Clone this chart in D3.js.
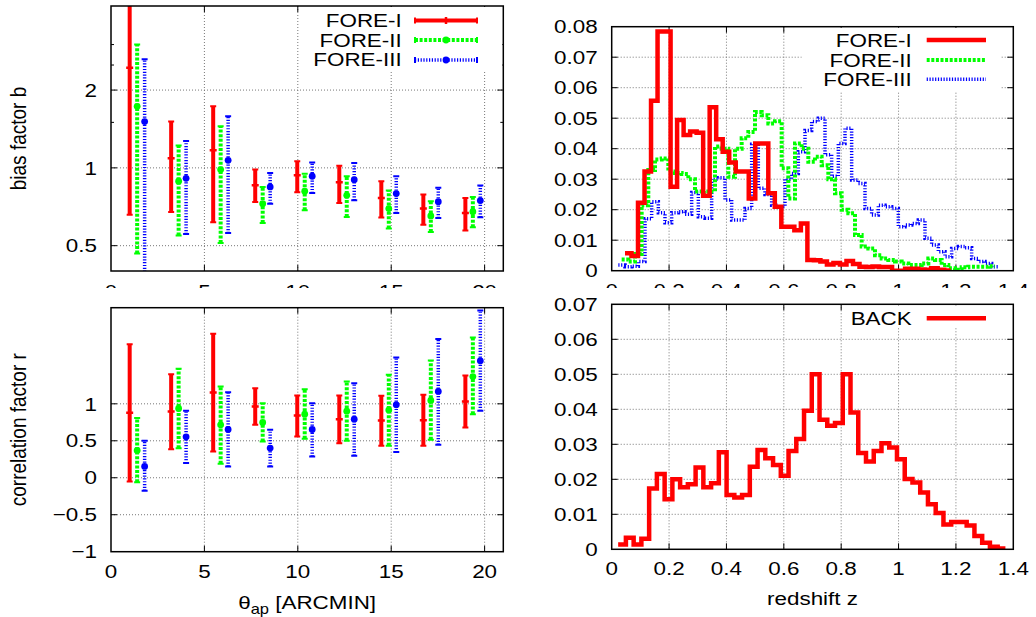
<!DOCTYPE html>
<html>
<head>
<meta charset="utf-8">
<script src="https://cdn.jsdelivr.net/npm/d3@7"></script>
<style>
body { margin: 0; background: #fff; }
svg { display: block; }
text { font-family: "Liberation Sans", Arial, sans-serif; font-size: 19px; fill: #000; }
</style>
</head>
<body>
<svg id="chart" width="1036" height="617"></svg>
<script>
// ---- data ----
var thetaI   = [1, 3.22, 5.47, 7.72, 9.97, 12.22, 14.47, 16.72, 18.97];
var thetaII  = [1.4, 3.62, 5.87, 8.12, 10.37, 12.62, 14.87, 17.12, 19.37];
var thetaIII = [1.8, 4.02, 6.27, 8.52, 10.77, 13.02, 15.27, 17.52, 19.77];

// bias factor b : [low, value, high]
var biasI   = [[0.659,2.44,4.5],[0.675,1.09,1.51],[0.616,1.17,1.73],[0.738,0.856,0.985],[0.804,0.936,1.06],[0.732,0.88,1.02],[0.642,0.765,0.888],[0.603,0.696,0.788],[0.573,0.669,0.765]];
var biasII  = [[0.466,1.73,3.0],[0.548,0.888,1.22],[0.512,0.985,1.45],[0.612,0.727,0.844],[0.685,0.812,0.95],[0.646,0.783,0.928],[0.583,0.696,0.817],[0.565,0.652,0.742],[0.589,0.677,0.772]];
var biasIII = [[0.35,1.51,2.63],[0.555,0.911,1.27],[0.56,1.07,1.585],[0.727,0.844,0.956],[0.80,0.928,1.05],[0.749,0.90,1.045],[0.669,0.795,0.928],[0.64,0.74,0.837],[0.644,0.747,0.854]];

// correlation factor r : [low, value, high]
var corrI   = [[-0.05,0.88,1.807],[0.387,0.896,1.40],[0.356,1.153,1.946],[0.716,0.964,1.212],[0.559,0.842,1.113],[0.468,0.793,1.113],[0.432,0.775,1.108],[0.432,0.779,1.122],[0.68,1.032,1.383]];
var corrII  = [[-0.06,0.37,0.807],[0.40,0.937,1.473],[0.189,0.716,1.234],[0.491,0.748,1.009],[0.527,0.86,1.198],[0.5,0.901,1.302],[0.432,0.915,1.392],[0.514,1.045,1.586],[0.86,1.369,1.896]];
var corrIII = [[-0.176,0.153,0.5],[0.198,0.554,0.905],[0.153,0.653,1.158],[0.153,0.401,0.649],[0.288,0.653,1.009],[0.297,0.793,1.279],[0.347,0.986,1.626],[0.446,1.167,1.878],[0.905,1.581,2.261]];

// redshift histograms: first bin edge, bin width, bin heights
var foreIStart = 0.0463, foreIWidth = 0.02271;
var foreI = [0.0057,0.0048,0.0223,0.0325,0.0557,0.0784,0.0784,0.0275,0.0494,0.0445,0.0456,0.0452,0.0246,0.0536,0.0431,0.039,0.0355,0.0325,0.0325,0.0237,
  0.0417,0.0417,0.0254,0.021,0.0144,0.0144,0.0133,0.0155,0.0035,0.0034,0.003,0.002,0.0025,0.002,0.0032,0.0022,0.0013,0.0012,0.0014,0.0012,
  0.0012,0,0,0.0006,0.0006,0.0004,0.0003,0.0008,0.0003,0.0001];

var foreIIStart = 0.0347, foreIIWidth = 0.02324;
var foreII = [0.0037,0.003,0.0055,0.0215,0.033,0.0365,0.0368,0.0325,0.032,0.0317,0.030,0.026,0.0255,0.026,0.0407,0.040,0.0308,0.040,0.0434,0.0455,
  0.052,0.051,0.0483,0.049,0.0336,0.0237,0.0417,0.040,0.0357,0.0374,0.0346,0.030,0.0254,0.020,0.0188,0.0117,0.0079,0.0073,0.0051,0.004,
  0.0035,0.003,0.0024,0.0019,0.0019,0.0024,0.004,0.0035,0.0019,0.0008,0.0003,0.0011,0.0013,0.0013,0.0013,0.0015];

var foreIIIStart = 0.0231, foreIIIWidth = 0.02324;
var foreIII = [0.0019,0.0013,0.0015,0.003,0.017,0.0226,0.019,0.0157,0.019,0.0193,0.0185,0.0256,0.0177,0.0172,0.030,0.0305,0.0232,0.0166,0.0166,0.0204,
  0.0415,0.027,0.025,0.0215,0.021,0.030,0.0319,0.039,0.046,0.0489,0.050,0.038,0.031,0.0417,0.0467,0.0297,0.0286,0.0204,0.0183,0.0215,
  0.021,0.0204,0.0144,0.015,0.0155,0.0166,0.0106,0.0084,0.0062,0.0046,0.0073,0.0079,0.0075,0.004,0.003,0.0024,0.0013];

var backStart = 0.0225, backWidth = 0.027;
var back = [0.0014,0.0033,0.0014,0.003,0.0174,0.0215,0.0143,0.020,0.0177,0.0186,0.0234,0.0177,0.0189,0.0277,0.0155,0.0148,0.0155,0.0236,0.0284,0.026,
  0.0241,0.021,0.0281,0.0315,0.0396,0.05,0.037,0.0353,0.0361,0.05,0.0391,0.0275,0.0251,0.0281,0.0303,0.0291,0.0257,0.0201,0.0191,0.0162,
  0.0129,0.0104,0.0071,0.0078,0.0078,0.0068,0.0038,0.0019,0.0007,0.0002];

var thetaTicks = [0, 5, 10, 15, 20];
var biasTicks = [0.5, 1, 2];
var biasMinor = [1.5, 2.5, 3];
var corrTicks = [-1, -0.5, 0, 0.5, 1];
var zTicks = [0, 0.2, 0.4, 0.6, 0.8, 1, 1.2, 1.4];
var nzTicksTop = [0, 0.01, 0.02, 0.03, 0.04, 0.05, 0.06, 0.07, 0.08];
var nzTicksBottom = [0, 0.01, 0.02, 0.03, 0.04, 0.05, 0.06, 0.07];

// ---- layout ----
var SX = 1.18;   // the picture is stretched horizontally
var svg = d3.select('#chart');

var boxTL = {x0: 111, x1: 503.3, y0: 6, y1: 271};
var boxTR = {x0: 611.7, x1: 1013.3, y0: 26.7, y1: 270.7};
var boxBL = {x0: 111, x1: 503.3, y0: 307.7, y1: 551.7};
var boxBR = {x0: 611.7, x1: 1013.3, y0: 304.3, y1: 549.3};

var xTheta = d3.scaleLinear().domain([0, 21]).range([boxTL.x0, boxTL.x1]);
var yBias = d3.scaleLog().domain([0.399, 4.23]).range([boxTL.y1, boxTL.y0]);
var yCorr = d3.scaleLinear().domain([-1, 2.3]).range([boxBL.y1, boxBL.y0]);
var xZ = d3.scaleLinear().domain([0, 1.4]).range([boxTR.x0, boxTR.x1]);
var yNzTop = d3.scaleLinear().domain([0, 0.08]).range([boxTR.y1, boxTR.y0]);
var yNzBot = d3.scaleLinear().domain([0, 0.07]).range([boxBR.y1, boxBR.y0]);

var styles = {
	I:   {color: '#ff0000', dash: null,      w: 4,   hw: 4.5, dot: false},
	II:  {color: '#00ff00', dash: '3,1.6',   w: 4,   hw: 4,   dot: true},
	III: {color: '#0000ff', dash: '1.2,1.6', w: 3.5, hw: 3.5, dot: true}
};

function txt(g, x, y, str, anchor) {
	return g.append('text')
		.attr('transform', `translate(${x},${y}) scale(${SX},1)`)
		.attr('text-anchor', anchor || 'middle')
		.text(str);
}

function fmt(v) { return d3.format('~g')(v); }

var clipId = 0;
function panel(b, xs, ys, xTicks, yTicks, xLabY) {
	var g = svg.append('g');
	var gx = xTicks.filter(v => xs(v) > b.x0 + 2 && xs(v) < b.x1 - 2);
	var gy = yTicks.filter(v => ys(v) > b.y0 + 2 && ys(v) < b.y1 - 2);
	g.selectAll('.gridx').data(gx).enter().append('line')
		.attr('x1', d => xs(d)).attr('x2', d => xs(d))
		.attr('y1', b.y0).attr('y2', b.y1)
		.attr('stroke', '#777').attr('stroke-dasharray', '1,2');
	g.selectAll('.gridy').data(gy).enter().append('line')
		.attr('x1', b.x0).attr('x2', b.x1)
		.attr('y1', d => ys(d)).attr('y2', d => ys(d))
		.attr('stroke', '#777').attr('stroke-dasharray', '1,2');
	// inward ticks on all four sides
	gx.forEach(function(v) {
		g.append('line').attr('x1', xs(v)).attr('x2', xs(v)).attr('y1', b.y1).attr('y2', b.y1 - 6).attr('stroke', '#000');
		g.append('line').attr('x1', xs(v)).attr('x2', xs(v)).attr('y1', b.y0).attr('y2', b.y0 + 6).attr('stroke', '#000');
	});
	gy.forEach(function(v) {
		g.append('line').attr('x1', b.x0).attr('x2', b.x0 + 6).attr('y1', ys(v)).attr('y2', ys(v)).attr('stroke', '#000');
		g.append('line').attr('x1', b.x1).attr('x2', b.x1 - 6).attr('y1', ys(v)).attr('y2', ys(v)).attr('stroke', '#000');
	});
	xTicks.forEach(v => txt(g, xs(v), xLabY, fmt(v)));
	yTicks.forEach(v => txt(g, b.x0 - 14, ys(v) + 6.7, fmt(v), 'end'));

	clipId++;
	svg.append('clipPath').attr('id', 'clip' + clipId)
		.append('rect').attr('x', b.x0).attr('y', b.y0).attr('width', b.x1 - b.x0).attr('height', b.y1 - b.y0);
	var data = svg.append('g').attr('clip-path', 'url(#clip' + clipId + ')');
	return {g: g, data: data};
}

function border(b) {
	svg.append('rect').attr('x', b.x0).attr('y', b.y0)
		.attr('width', b.x1 - b.x0).attr('height', b.y1 - b.y0)
		.attr('fill', 'none').attr('stroke', '#000').attr('stroke-width', 1.5);
}

function keyBox(x0, y0, x1, y1) {
	svg.append('rect').attr('x', x0).attr('y', y0).attr('width', x1 - x0).attr('height', y1 - y0).attr('fill', '#fff');
}

function errorBars(g, xs, ys, theta, vals, st) {
	var grp = g.append('g');
	vals.forEach(function(d, i) {
		var x = xs(theta[i]);
		var bar = grp.append('line').attr('x1', x).attr('x2', x)
			.attr('y1', ys(d[0])).attr('y2', ys(d[2]))
			.attr('stroke', st.color).attr('stroke-width', st.w);
		if (st.dash) bar.attr('stroke-dasharray', st.dash);
		[d[0], d[2]].forEach(function(v) {
			grp.append('line').attr('x1', x - 3).attr('x2', x + 3)
				.attr('y1', ys(v)).attr('y2', ys(v))
				.attr('stroke', st.color).attr('stroke-width', 2);
		});
		if (st.dot) {
			grp.append('circle').attr('cx', x).attr('cy', ys(d[1])).attr('r', 3.4).attr('fill', st.color);
		} else {
			grp.append('line').attr('x1', x - 3.5).attr('x2', x + 3.5)
				.attr('y1', ys(d[1])).attr('y2', ys(d[1]))
				.attr('stroke', st.color).attr('stroke-width', 2.5);
		}
	});
}

function histo(g, xs, ys, start, width, vals, st) {
	var pts = vals.map((v, k) => [start + k * width, v]);
	pts.push([start + vals.length * width, vals[vals.length - 1]]);
	var line = d3.line().x(d => xs(d[0])).y(d => ys(d[1])).curve(d3.curveStepAfter);
	var p = g.append('path').attr('d', line(pts))
		.attr('fill', 'none').attr('stroke', st.color).attr('stroke-width', st.hw)
		.attr('stroke-linejoin', 'miter');
	if (st.dash) p.attr('stroke-dasharray', st.dash);
}

function keyLine(x0, x1, y, st, withBars) {
	var l = svg.append('line').attr('x1', x0).attr('x2', x1).attr('y1', y).attr('y2', y)
		.attr('stroke', st.color).attr('stroke-width', withBars ? st.w : st.hw);
	if (st.dash) l.attr('stroke-dasharray', st.dash);
	if (!withBars) return;
	[x0, x1].forEach(function(x) {
		svg.append('line').attr('x1', x).attr('x2', x).attr('y1', y - 3).attr('y2', y + 3)
			.attr('stroke', st.color).attr('stroke-width', 2);
	});
	var xm = (x0 + x1) / 2;
	if (st.dot) svg.append('circle').attr('cx', xm).attr('cy', y).attr('r', 3.4).attr('fill', st.color);
	else svg.append('line').attr('x1', xm).attr('x2', xm).attr('y1', y - 3.5).attr('y2', y + 3.5)
		.attr('stroke', st.color).attr('stroke-width', 2.5);
}

// ---- top left: bias factor ----
var tl = panel(boxTL, xTheta, yBias, thetaTicks, biasTicks, 297.5);
biasMinor.forEach(function(v) {
	tl.g.append('line').attr('x1', boxTL.x0).attr('x2', boxTL.x0 + 3).attr('y1', yBias(v)).attr('y2', yBias(v)).attr('stroke', '#000');
	tl.g.append('line').attr('x1', boxTL.x1).attr('x2', boxTL.x1 - 3).attr('y1', yBias(v)).attr('y2', yBias(v)).attr('stroke', '#000');
});
keyBox(300, boxTL.y0 + 1, boxTL.x1 - 1, 70);
errorBars(tl.data, xTheta, yBias, thetaI, biasI, styles.I);
errorBars(tl.data, xTheta, yBias, thetaII, biasII, styles.II);
errorBars(tl.data, xTheta, yBias, thetaIII, biasIII, styles.III);
border(boxTL);
[['FORE-I', styles.I, 20.5, 27], ['FORE-II', styles.II, 40, 46.5], ['FORE-III', styles.III, 60, 66]].forEach(function(k) {
	txt(svg, 401.7, k[3], k[0], 'end');
	keyLine(415, 477, k[2], k[1], true);
});
svg.append('text').attr('transform', `translate(26,${(boxTL.y0 + boxTL.y1) / 2}) rotate(-90) scale(1,${SX})`)
	.attr('text-anchor', 'middle').text('bias factor b');

// ---- top right: FORE redshift distributions ----
var tr = panel(boxTR, xZ, yNzTop, zTicks, nzTicksTop, 297);
keyBox(801.7, boxTR.y0 + 1, 1000, 92);
histo(tr.data, xZ, yNzTop, foreIIIStart, foreIIIWidth, foreIII, styles.III);
histo(tr.data, xZ, yNzTop, foreIIStart, foreIIWidth, foreII, styles.II);
histo(tr.data, xZ, yNzTop, foreIStart, foreIWidth, foreI, styles.I);
border(boxTR);
[['FORE-I', styles.I, 40, 46.7], ['FORE-II', styles.II, 60, 66.7], ['FORE-III', styles.III, 79.3, 85.7]].forEach(function(k) {
	txt(svg, 911.7, k[3], k[0], 'end');
	keyLine(926.7, 986, k[2], k[1], false);
});

// the lower panels sit over the clipped x labels of the upper ones
svg.append('rect').attr('x', 0).attr('y', 288).attr('width', 1036).attr('height', 329).attr('fill', '#fff');

// ---- bottom left: correlation factor ----
var bl = panel(boxBL, xTheta, yCorr, thetaTicks, corrTicks, 578.3);
errorBars(bl.data, xTheta, yCorr, thetaI, corrI, styles.I);
errorBars(bl.data, xTheta, yCorr, thetaII, corrII, styles.II);
errorBars(bl.data, xTheta, yCorr, thetaIII, corrIII, styles.III);
border(boxBL);
svg.append('text').attr('transform', `translate(26,${(boxBL.y0 + boxBL.y1) / 2}) rotate(-90) scale(1,${SX})`)
	.attr('text-anchor', 'middle').text('correlation factor r');
var xl = svg.append('text').attr('transform', `translate(${(boxBL.x0 + boxBL.x1) / 2},608.5) scale(${SX},1)`)
	.attr('text-anchor', 'middle');
xl.append('tspan').text('θ');
xl.append('tspan').attr('font-size', '14px').attr('dy', 5).text('ap');
xl.append('tspan').attr('dy', -5).text(' [ARCMIN]');

// ---- bottom right: BACK redshift distribution ----
var br = panel(boxBR, xZ, yNzBot, zTicks, nzTicksBottom, 575.3);
keyBox(842, boxBR.y0 + 1, 1000, 327);
histo(br.data, xZ, yNzBot, backStart, backWidth, back, styles.I);
border(boxBR);
txt(svg, 911.7, 325, 'BACK', 'end');
keyLine(926.7, 986, 318.3, styles.I, false);
txt(svg, (boxBR.x0 + boxBR.x1) / 2, 605, 'redshift z');
</script>
</body>
</html>
